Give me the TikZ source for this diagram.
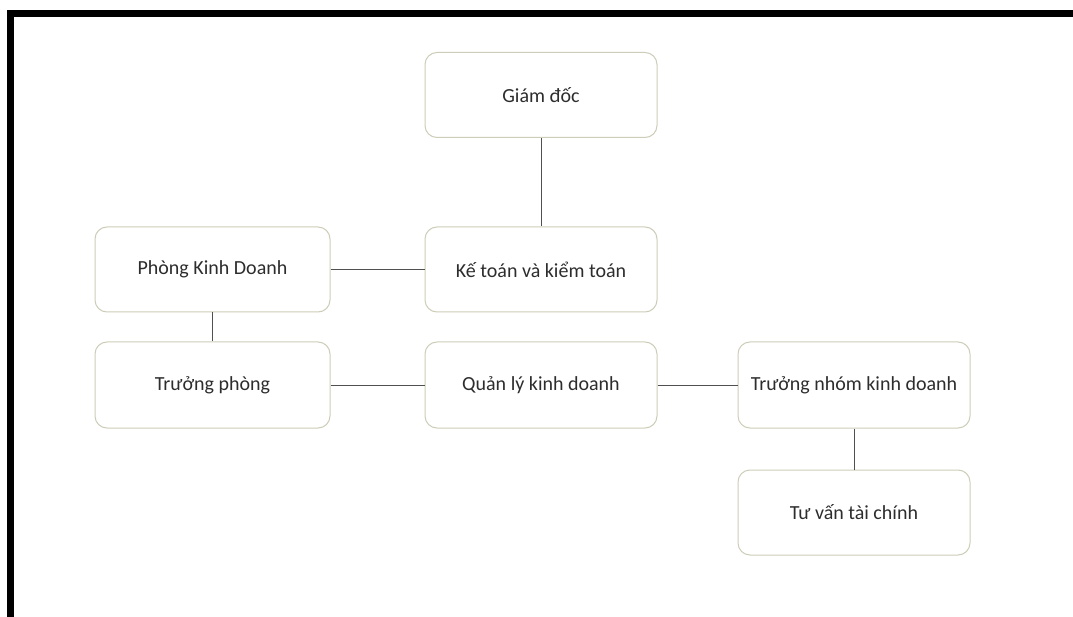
\documentclass[tikz,border=0pt]{standalone}
\usepackage{fontspec}
\setmainfont{Carlito}
\definecolor{boxedge}{RGB}{205,205,185}
\definecolor{linec}{RGB}{80,80,80}
\definecolor{textc}{RGB}{45,45,45}
\begin{document}
\begin{tikzpicture}[x=1pt,y=-1pt,
  orgbox/.style={draw=boxedge, line width=1pt, rounded corners=12pt, fill=white,
    minimum width=232pt, minimum height=85pt, inner sep=0pt,
    font=\fontsize{20}{23}\selectfont, text=textc},
  link/.style={draw=linec, line width=1pt}]
\useasboundingbox (0,0) rectangle (1073,617);
\fill[white] (0,0) rectangle (1073,617);
% frame
\fill[black] (7,10) rectangle (1073,17);
\fill[black] (7,10) rectangle (14,617);
% nodes
\node[orgbox] (gd) at (541,95) {Giám đốc};
\node[orgbox] (kt) at (541,269.5) {Kế toán và kiểm toán};
\node[orgbox, minimum width=235pt] (pkd) at (212.5,269.5) {Phòng Kinh Doanh};
\node[orgbox, minimum width=235pt, minimum height=86pt] (tp) at (212.5,385) {Trưởng phòng};
\node[orgbox, minimum height=86pt] (ql) at (541,385) {Quản lý kinh doanh};
\node[orgbox, minimum height=86pt] (tn) at (854,385) {Trưởng nhóm kinh doanh};
\node[orgbox] (tv) at (854,512.5) {Tư vấn tài chính};
% connectors
\draw[link] (gd.south) -- (kt.north);
\draw[link] (pkd.east) -- (kt.west);
\draw[link] (pkd.south) -- (tp.north);
\draw[link] (tp.east) -- (ql.west);
\draw[link] (ql.east) -- (tn.west);
\draw[link] (tn.south) -- (tv.north);
\end{tikzpicture}
\end{document}
